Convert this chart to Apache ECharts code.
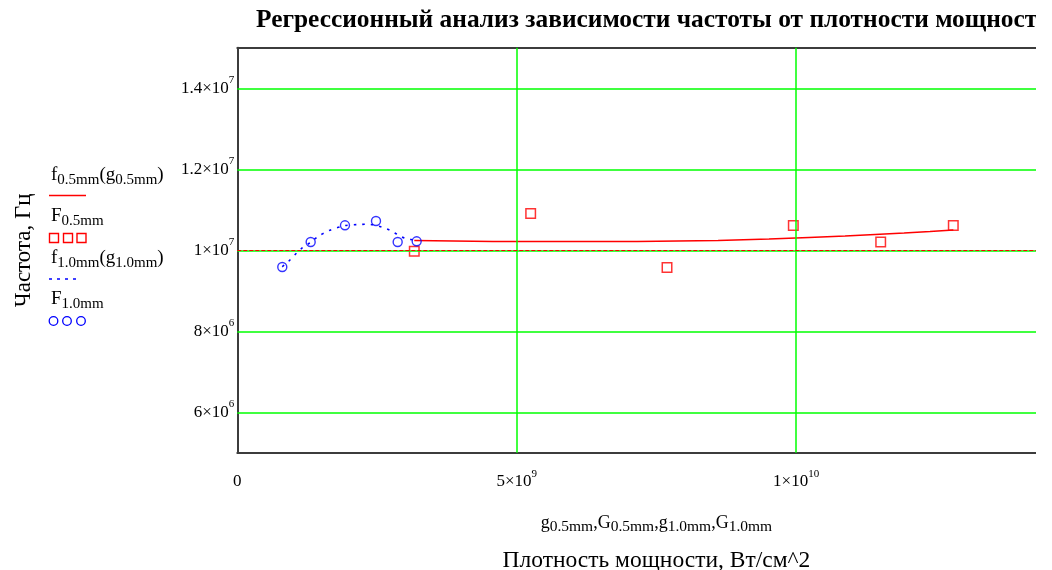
<!DOCTYPE html>
<html>
<head>
<meta charset="utf-8">
<script src="https://cdn.jsdelivr.net/npm/echarts@6/dist/echarts.min.js"></script>
<style>
  html, body { margin: 0; padding: 0; background: #ffffff; overflow: hidden; }
  #wrap { width: 1036px; height: 570px; overflow: hidden; position: relative; }
  #chart { width: 1100px; height: 570px; }
</style>
</head>
<body>
<div id="wrap"><div id="chart"></div></div>
<script>
// Measured points, 0.5 mm sample: power density G (W/cm^2) and frequency F (Hz)
const G05 = [3.167e9, 5.250e9, 7.690e9, 9.950e9, 11.514e9, 12.813e9];
const F05 = [9.975e6, 10.906e6, 9.573e6, 10.610e6, 10.205e6, 10.610e6];
// Measured points, 1.0 mm sample
const G10 = [0.805e9, 1.313e9, 1.927e9, 2.482e9, 2.870e9, 3.210e9];
const F10 = [9.588e6, 10.205e6, 10.617e6, 10.723e6, 10.205e6, 10.222e6];

// Regression curve f0.5mm(g0.5mm), sampled
const g05 = [3.167e9, 4.576e9, 7.153e9, 8.603e9, 9.515e9, 10.231e9, 10.876e9, 11.413e9, 11.932e9, 12.397e9, 12.814e9];
const f05 = [10.240e6, 10.217e6, 10.217e6, 10.240e6, 10.277e6, 10.316e6, 10.351e6, 10.390e6, 10.425e6, 10.462e6, 10.499e6];
// Regression curve f1.0mm(g1.0mm), sampled
const g10 = [0.805e9, 0.913e9, 1.063e9, 1.152e9, 1.313e9, 1.449e9, 1.641e9, 1.927e9, 2.160e9, 2.303e9, 2.428e9, 2.590e9, 2.733e9, 2.876e9, 3.001e9, 3.234e9];
const f10 = [9.593e6, 9.721e6, 9.933e6, 10.049e6, 10.198e6, 10.346e6, 10.486e6, 10.610e6, 10.635e6, 10.642e6, 10.630e6, 10.568e6, 10.494e6, 10.383e6, 10.296e6, 10.240e6];

// Axis ticks: [mantissa part, exponent]
const xTicks = [0, 5e9, 1e10];
const xTickLabels = [['0', ''], ['5×10', '9'], ['1×10', '10']];
const yTicks = [6e6, 8e6, 1e7, 1.2e7, 1.4e7];
const yTickLabels = [['6×10', '6'], ['8×10', '6'], ['1×10', '7'], ['1.2×10', '7'], ['1.4×10', '7']];
const refLevel = 1e7;

const SERIF = '"Liberation Serif", "Times New Roman", serif';
const RED = '#ff0000';
const BLUE = '#0000ff';
const GREEN = '#00ff00';

const zip = (xs, ys) => xs.map((x, i) => [x, ys[i]]);

function powerLabel(ticks, labels) {
  return function (v) {
    const i = ticks.findIndex(t => Math.abs(t - v) < Math.abs(t) * 1e-6 + 1);
    if (i < 0) return '';
    const [m, e] = labels[i];
    return e ? '{b|' + m + '}{p|' + e + '}' : '{b|' + m + '}';
  };
}
const tickRich = {
  b: { fontFamily: SERIF, fontSize: 17, color: '#000', lineHeight: 20 },
  p: { fontFamily: SERIF, fontSize: 11, color: '#000', lineHeight: 11, padding: [0, 0, 16, 0] }
};

// rich styles for names with subscripts
const subRich = (main, sub, pad, lh) => ({
  m: { fontFamily: SERIF, fontSize: main, color: '#000', fill: '#000', lineHeight: lh },
  s: { fontFamily: SERIF, fontSize: sub, color: '#000', fill: '#000', lineHeight: sub, padding: [pad, 0, 0, 0] }
});

const chart = echarts.init(document.getElementById('chart'), null, { renderer: 'canvas' });

const legendRich = subRich(19, 15, 10, 25);
function legendText(str, y) {
  return { type: 'text', x: 51, y: y, z: 10,
    style: { text: str, rich: legendRich, fill: '#000', fontFamily: SERIF, fontSize: 19, align: 'left', verticalAlign: 'middle' } };
}
const legendSquare = x => ({ type: 'rect', z: 10, shape: { x: x, y: 233.5, width: 9, height: 9 }, style: { stroke: RED, fill: 'none', lineWidth: 1.4 } });
const legendCircle = cx => ({ type: 'circle', z: 10, shape: { cx: cx, cy: 321, r: 4.3 }, style: { stroke: BLUE, fill: 'none', lineWidth: 1.3 } });

const option = {
  animation: false,
  backgroundColor: '#ffffff',
  title: {
    text: 'Регрессионный анализ зависимости частоты от плотности мощности',
    left: 251, top: 3,
    textStyle: { fontFamily: SERIF, fontSize: 25.4, fontWeight: 'bold', color: '#000' }
  },
  grid: { left: 237.3, top: 47.8, width: 838.2, height: 405, containLabel: false, outerBoundsMode: 'none' },
  xAxis: [
    {
      type: 'value', min: 0, max: 1.5e10, interval: 5e9, position: 'bottom',
      axisLine: { show: true, onZero: false, lineStyle: { color: '#3c3c3c', width: 2 } },
      axisTick: { show: false },
      splitLine: { show: false },
      axisLabel: { margin: 19, formatter: powerLabel(xTicks, xTickLabels), rich: tickRich, showMaxLabel: false },
      name: '{m|g}{s|0.5mm}{m|,G}{s|0.5mm}{m|,g}{s|1.0mm}{m|,G}{s|1.0mm}\n{t|Плотность мощности, Вт/см^2}',
      nameLocation: 'middle',
      nameGap: 58,
      nameTextStyle: {
        rich: Object.assign(subRich(18, 15.5, 9, 24), {
          t: { fontFamily: SERIF, fontSize: 23.5, color: '#000', lineHeight: 52 }
        })
      }
    },
    {
      type: 'value', min: 0, max: 1.5e10, position: 'top',
      axisLine: { show: true, onZero: false, lineStyle: { color: '#3c3c3c', width: 2 } },
      axisTick: { show: false }, axisLabel: { show: false }, splitLine: { show: false }
    }
  ],
  yAxis: {
    type: 'value', min: 5e6, max: 1.5e7,
    axisLine: { show: true, onZero: false, lineStyle: { color: '#3c3c3c', width: 2 } },
    axisTick: { show: false },
    splitLine: { show: false },
    axisLabel: { margin: 3, customValues: yTicks, formatter: powerLabel(yTicks, yTickLabels), rich: tickRich },
    name: 'Частота, Гц',
    nameLocation: 'middle',
    nameGap: 202,
    nameRotate: 90,
    nameTextStyle: { fontFamily: SERIF, fontSize: 23, color: '#000' }
  },
  graphic: [
    legendText('{m|f}{s|0.5mm}{m|(g}{s|0.5mm}{m|)}', 175),
    { type: 'line', z: 10, shape: { x1: 49, y1: 195.5, x2: 86, y2: 195.5 }, style: { stroke: RED, lineWidth: 1.5 } },
    legendText('{m|F}{s|0.5mm}', 216),
    legendSquare(49.5), legendSquare(63.5), legendSquare(77),
    legendText('{m|f}{s|1.0mm}{m|(g}{s|1.0mm}{m|)}', 258),
    { type: 'line', z: 10, shape: { x1: 49, y1: 279, x2: 80, y2: 279 }, style: { stroke: BLUE, lineWidth: 1.5, lineDash: [3, 5] } },
    legendText('{m|F}{s|1.0mm}', 299),
    legendCircle(53.5), legendCircle(67), legendCircle(81)
  ],
  series: [
    {
      // green grid lines at the tick positions
      type: 'line', data: [], z: 1, silent: true,
      markLine: {
        silent: true, symbol: ['none', 'none'], label: { show: false },
        lineStyle: { color: GREEN, width: 1.5, type: 'solid' },
        emphasis: { disabled: true },
        data: yTicks.map(v => ({ yAxis: v })).concat(xTicks.filter(v => v > 0).map(v => ({ xAxis: v })))
      }
    },
    {
      // reference level marker
      type: 'line', data: [], z: 2, silent: true,
      markLine: {
        silent: true, symbol: ['none', 'none'], label: { show: false },
        lineStyle: { color: RED, width: 1.2, type: [4, 2] },
        emphasis: { disabled: true },
        data: [{ yAxis: refLevel }]
      }
    },
    {
      name: 'f0.5mm', type: 'line', z: 3, data: zip(g05, f05),
      showSymbol: false, smooth: false,
      lineStyle: { color: RED, width: 1.5 }
    },
    {
      name: 'f1.0mm', type: 'line', z: 3, data: zip(g10, f10),
      showSymbol: false, smooth: 0.3,
      lineStyle: { color: BLUE, width: 1.6, type: [2.5, 6] }
    },
    {
      name: 'F0.5mm', type: 'scatter', z: 4, data: zip(G05, F05),
      symbol: 'rect', symbolSize: 9.5,
      itemStyle: { color: 'rgba(0,0,0,0)', borderColor: RED, borderWidth: 1.5 }
    },
    {
      name: 'F1.0mm', type: 'scatter', z: 4, data: zip(G10, F10),
      symbol: 'circle', symbolSize: 9,
      itemStyle: { color: 'rgba(0,0,0,0)', borderColor: BLUE, borderWidth: 1.4 }
    }
  ]
};

chart.setOption(option);
</script>
</body>
</html>
